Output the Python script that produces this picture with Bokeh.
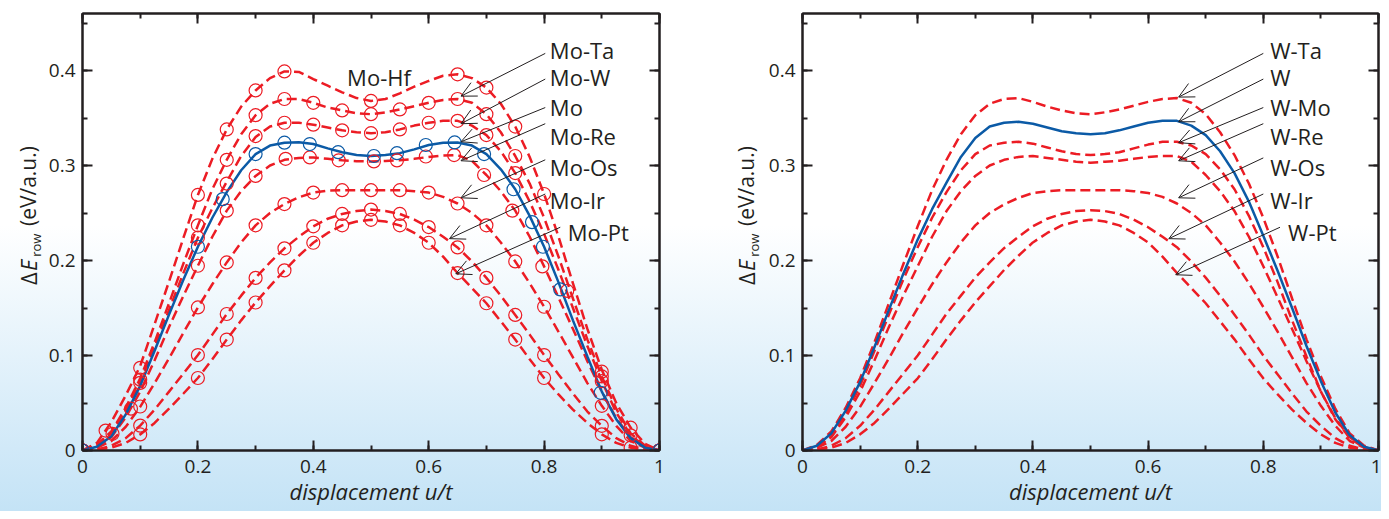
import math
from bokeh.plotting import figure
from bokeh.models import (Range1d, LinearAxis, SingleIntervalTicker, CustomJSTickFormatter,
                          Arrow, OpenHead, ColumnDataSource)
from bokeh.layouts import row
from bokeh.embed import file_html
from bokeh.resources import INLINE
from bokeh.core.properties import value

# ---------------- data ----------------
# x grid of the curves (displacement u/t)
G = [0, 0.025, 0.05, 0.075, 0.1, 0.125, 0.15, 0.175, 0.2, 0.225, 0.25, 0.275, 0.3, 0.325,
     0.35, 0.375, 0.4, 0.425, 0.45, 0.475, 0.5, 0.525, 0.55, 0.575, 0.6, 0.625, 0.65, 0.675,
     0.7, 0.725, 0.75, 0.775, 0.8, 0.825, 0.85, 0.875, 0.9, 0.925, 0.95, 0.975, 1]

# left panel curves (Mo based)
mo_hf = [0, 0.008, 0.030, 0.058, 0.089, 0.133, 0.178, 0.224, 0.269, 0.307, 0.338, 0.362, 0.379, 0.392,
         0.399, 0.3985, 0.391, 0.384, 0.377, 0.371, 0.368, 0.370, 0.376, 0.383, 0.389, 0.3945, 0.396, 0.392,
         0.382, 0.365, 0.341, 0.309, 0.270, 0.225, 0.176, 0.128, 0.085, 0.050, 0.024, 0.007, 0]
mo_ta = [0, 0.006, 0.020, 0.045, 0.076, 0.114, 0.155, 0.197, 0.237, 0.275, 0.306, 0.333, 0.353, 0.365,
         0.370, 0.370, 0.366, 0.361, 0.358, 0.355, 0.354, 0.356, 0.359, 0.3625, 0.366, 0.369, 0.370, 0.366,
         0.354, 0.335, 0.310, 0.281, 0.245, 0.204, 0.160, 0.117, 0.078, 0.044, 0.018, 0.005, 0]
mo_w = [0, 0.005, 0.018, 0.042, 0.072, 0.109, 0.148, 0.187, 0.224, 0.255, 0.283, 0.310, 0.330, 0.341,
        0.345, 0.345, 0.343, 0.340, 0.337, 0.335, 0.334, 0.335, 0.338, 0.342, 0.345, 0.347, 0.347, 0.342,
        0.332, 0.315, 0.292, 0.262, 0.228, 0.190, 0.150, 0.110, 0.073, 0.040, 0.016, 0.004, 0]
mo = [0, 0.004, 0.015, 0.038, 0.068, 0.105, 0.143, 0.180, 0.2145, 0.245, 0.272, 0.295, 0.312, 0.321,
      0.324, 0.3245, 0.3226, 0.318, 0.314, 0.311, 0.310, 0.311, 0.313, 0.317, 0.3216, 0.324, 0.3243, 0.321,
      0.312, 0.296, 0.275, 0.247, 0.2145, 0.177, 0.137, 0.099, 0.062, 0.033, 0.013, 0.003, 0]
mo_re = [0, 0.004, 0.014, 0.035, 0.062, 0.095, 0.130, 0.163, 0.1945, 0.225, 0.2525, 0.273, 0.289, 0.300,
         0.306, 0.308, 0.3085, 0.307, 0.3055, 0.3045, 0.3043, 0.3047, 0.3055, 0.307, 0.309, 0.3105, 0.311, 0.305,
         0.290, 0.273, 0.2525, 0.225, 0.1938, 0.161, 0.128, 0.094, 0.062, 0.034, 0.014, 0.004, 0]
mo_os = [0, 0.003, 0.010, 0.025, 0.046, 0.071, 0.097, 0.124, 0.1506, 0.175, 0.198, 0.219, 0.237, 0.250,
         0.2594, 0.2665, 0.2715, 0.2735, 0.274, 0.274, 0.274, 0.274, 0.274, 0.273, 0.2715, 0.267, 0.260, 0.250,
         0.237, 0.219, 0.199, 0.176, 0.1513, 0.125, 0.098, 0.071, 0.047, 0.026, 0.010, 0.003, 0]
mo_ir = [0, 0.001, 0.005, 0.013, 0.0262, 0.043, 0.062, 0.081, 0.1005, 0.122, 0.1437, 0.163, 0.1817, 0.198,
         0.2128, 0.225, 0.236, 0.244, 0.249, 0.252, 0.2536, 0.252, 0.249, 0.243, 0.2352, 0.225, 0.2138, 0.199,
         0.1817, 0.163, 0.1427, 0.122, 0.1005, 0.080, 0.060, 0.041, 0.026, 0.013, 0.005, 0.001, 0]
mo_pt = [0, 0.001, 0.003, 0.008, 0.0169, 0.029, 0.044, 0.060, 0.0763, 0.096, 0.1168, 0.137, 0.1558, 0.173,
         0.1896, 0.205, 0.2187, 0.229, 0.237, 0.241, 0.2428, 0.241, 0.237, 0.229, 0.2187, 0.204, 0.1868, 0.171,
         0.155, 0.136, 0.1168, 0.096, 0.0763, 0.059, 0.043, 0.029, 0.017, 0.008, 0.003, 0.001, 0]

# left panel computed points (open circles)
mk_mo_hf_x = [0, 0.04, 0.1, 0.2, 0.25, 0.3, 0.35, 0.5, 0.65, 0.7, 0.75, 0.8, 0.9, 0.95, 1]
mk_mo_hf_y = [0, 0.021, 0.087, 0.269, 0.338, 0.379, 0.399, 0.368, 0.396, 0.382, 0.341, 0.270, 0.083, 0.024, 0]
mk_mo_ta_x = [0, 0.052, 0.1, 0.2, 0.25, 0.3, 0.35, 0.4, 0.45, 0.5, 0.55, 0.6, 0.65, 0.7, 0.75, 0.84, 0.9, 0.95, 1]
mk_mo_ta_y = [0, 0.0176, 0.0746, 0.237, 0.306, 0.353, 0.370, 0.366, 0.358, 0.354, 0.359, 0.366, 0.370, 0.354, 0.310, 0.168, 0.078, 0.016, 0]
mk_mo_w_x = [0, 0.1, 0.2, 0.25, 0.3, 0.35, 0.4, 0.45, 0.5, 0.55, 0.6, 0.65, 0.7, 0.75, 0.9, 1]
mk_mo_w_y = [0, 0.0712, 0.224, 0.281, 0.331, 0.345, 0.343, 0.337, 0.334, 0.338, 0.345, 0.347, 0.332, 0.292, 0.073, 0]
mk_mo_x = [0, 0.2, 0.243, 0.3, 0.35, 0.394, 0.443, 0.505, 0.545, 0.595, 0.645, 0.696, 0.747, 0.779, 0.798, 0.828, 0.898, 1]
mk_mo_y = [0, 0.2145, 0.2646, 0.312, 0.324, 0.3226, 0.314, 0.310, 0.313, 0.3216, 0.3243, 0.312, 0.275, 0.2404, 0.2145, 0.1696, 0.0608, 0]
mk_mo_re_x = [0, 0.084, 0.2, 0.25, 0.3, 0.352, 0.394, 0.444, 0.505, 0.545, 0.595, 0.644, 0.696, 0.745, 0.797, 1]
mk_mo_re_y = [0, 0.044, 0.1945, 0.2525, 0.289, 0.307, 0.3085, 0.3055, 0.3043, 0.3054, 0.3095, 0.311, 0.290, 0.2525, 0.1938, 0]
mk_mo_os_x = [0, 0.1, 0.2, 0.25, 0.3, 0.35, 0.4, 0.45, 0.5, 0.55, 0.6, 0.65, 0.7, 0.75, 0.8, 0.9, 1]
mk_mo_os_y = [0, 0.0463, 0.1506, 0.198, 0.237, 0.2594, 0.2715, 0.274, 0.274, 0.274, 0.2715, 0.260, 0.237, 0.199, 0.1513, 0.047, 0]
mk_mo_ir_x = [0, 0.1, 0.2, 0.25, 0.3, 0.35, 0.4, 0.45, 0.5, 0.55, 0.6, 0.65, 0.7, 0.75, 0.8, 0.9, 1]
mk_mo_ir_y = [0, 0.0262, 0.1005, 0.1437, 0.1817, 0.2128, 0.236, 0.249, 0.2536, 0.249, 0.2352, 0.2138, 0.1817, 0.1427, 0.1005, 0.026, 0]
mk_mo_pt_x = [0, 0.1, 0.2, 0.25, 0.3, 0.35, 0.4, 0.45, 0.5, 0.55, 0.6, 0.65, 0.7, 0.75, 0.8, 0.9, 0.95, 1]
mk_mo_pt_y = [0, 0.0169, 0.0763, 0.1168, 0.1558, 0.1896, 0.2187, 0.237, 0.2428, 0.237, 0.2187, 0.1868, 0.155, 0.1168, 0.0763, 0.017, 0.003, 0]

# right panel curves (W based)
w_ta = [0, 0.006, 0.020, 0.045, 0.076, 0.114, 0.155, 0.196, 0.236, 0.274, 0.306, 0.333, 0.353, 0.365,
        0.370, 0.371, 0.367, 0.362, 0.358, 0.355, 0.354, 0.356, 0.359, 0.363, 0.367, 0.370, 0.371, 0.366,
        0.354, 0.335, 0.311, 0.281, 0.245, 0.204, 0.160, 0.117, 0.078, 0.044, 0.018, 0.005, 0]
w = [0, 0.005, 0.018, 0.042, 0.072, 0.109, 0.148, 0.186, 0.222, 0.254, 0.282, 0.309, 0.329, 0.341,
     0.345, 0.346, 0.344, 0.340, 0.336, 0.334, 0.333, 0.334, 0.337, 0.341, 0.345, 0.347, 0.347, 0.342,
     0.332, 0.315, 0.292, 0.262, 0.226, 0.189, 0.150, 0.110, 0.073, 0.040, 0.016, 0.004, 0]
w_mo = [0, 0.004, 0.015, 0.038, 0.068, 0.105, 0.143, 0.180, 0.214, 0.245, 0.272, 0.295, 0.312, 0.321,
        0.324, 0.325, 0.323, 0.319, 0.315, 0.312, 0.311, 0.312, 0.314, 0.318, 0.322, 0.325, 0.325, 0.321,
        0.312, 0.296, 0.275, 0.247, 0.214, 0.177, 0.137, 0.099, 0.062, 0.033, 0.013, 0.003, 0]
w_re = [0, 0.004, 0.014, 0.035, 0.062, 0.095, 0.130, 0.163, 0.194, 0.225, 0.252, 0.273, 0.289, 0.300,
        0.306, 0.309, 0.310, 0.308, 0.306, 0.304, 0.303, 0.304, 0.305, 0.307, 0.309, 0.310, 0.310, 0.304,
        0.290, 0.273, 0.252, 0.225, 0.194, 0.161, 0.128, 0.094, 0.062, 0.034, 0.014, 0.004, 0]
w_os = [0, 0.003, 0.010, 0.025, 0.046, 0.071, 0.097, 0.124, 0.150, 0.175, 0.198, 0.219, 0.237, 0.250,
        0.259, 0.266, 0.271, 0.273, 0.274, 0.274, 0.274, 0.274, 0.274, 0.273, 0.271, 0.267, 0.260, 0.250,
        0.237, 0.219, 0.199, 0.176, 0.151, 0.125, 0.098, 0.071, 0.047, 0.026, 0.010, 0.003, 0]
w_ir = [0, 0.001, 0.005, 0.013, 0.026, 0.043, 0.062, 0.081, 0.100, 0.122, 0.144, 0.163, 0.182, 0.198,
        0.213, 0.225, 0.236, 0.244, 0.249, 0.252, 0.253, 0.252, 0.249, 0.243, 0.235, 0.225, 0.214, 0.199,
        0.182, 0.163, 0.143, 0.122, 0.100, 0.080, 0.060, 0.041, 0.026, 0.013, 0.005, 0.001, 0]
w_pt = [0, 0.001, 0.003, 0.008, 0.017, 0.029, 0.044, 0.060, 0.076, 0.096, 0.117, 0.137, 0.156, 0.173,
        0.190, 0.205, 0.219, 0.229, 0.237, 0.241, 0.243, 0.241, 0.237, 0.229, 0.219, 0.204, 0.187, 0.171,
        0.155, 0.136, 0.117, 0.096, 0.076, 0.059, 0.043, 0.029, 0.017, 0.008, 0.003, 0.001, 0]

# annotation texts
left_names = ["Mo-Ta", "Mo-W", "Mo", "Mo-Re", "Mo-Os", "Mo-Ir", "Mo-Pt"]
right_names = ["W-Ta", "W", "W-Mo", "W-Re", "W-Os", "W-Ir", "W-Pt"]
x_title = "displacement u/t"

# annotation placement (data units of each panel)
left_lab_x = [0.810, 0.810, 0.810, 0.810, 0.810, 0.810, 0.841]
left_lab_y = [0.422, 0.393, 0.362, 0.331, 0.298, 0.264, 0.230]
left_arr = dict(xs=[0.802, 0.802, 0.802, 0.802, 0.802, 0.802, 0.828],
                ys=[0.418, 0.391, 0.361, 0.344, 0.306, 0.270, 0.235],
                xe=[0.656, 0.656, 0.656, 0.656, 0.656, 0.636, 0.647],
                ye=[0.373, 0.344, 0.325, 0.305, 0.266, 0.223, 0.186])
right_lab_x = [0.812, 0.812, 0.812, 0.812, 0.812, 0.812, 0.843]
right_lab_y = [0.422, 0.393, 0.362, 0.331, 0.298, 0.264, 0.230]
right_arr = dict(xs=[0.800, 0.800, 0.800, 0.800, 0.800, 0.800, 0.829],
                 ys=[0.418, 0.391, 0.361, 0.344, 0.308, 0.270, 0.235],
                 xe=[0.653, 0.653, 0.653, 0.653, 0.653, 0.636, 0.648],
                 ye=[0.372, 0.346, 0.324, 0.305, 0.266, 0.223, 0.185])

# ---------------- style ----------------
RED = "#ec1c24"
BLUE = "#0b5aa6"
INK = "#231f20"
FONT = "Open Sans"
H = 511


def y_title_fig(width, cx):
    """Narrow bare canvas (pixel ranges) carrying the rotated y title."""
    f = figure(width=width, height=H, x_range=Range1d(0, width), y_range=Range1d(0, H),
               output_backend="svg", toolbar_location=None, x_axis_location=None, y_axis_location=None,
               min_border=0, min_border_left=0, min_border_right=0, min_border_top=0, min_border_bottom=0)
    f.grid.visible = False
    f.outline_line_color = None
    f.background_fill_color = None
    f.border_fill_color = None
    kw = dict(text_font=value(FONT), text_color=INK, angle=math.pi / 2,
              text_align="center", text_baseline="middle")
    f.text(x=[cx], y=[H - 201.8], text=["(eV/a.u.)"], text_font_size="21px", **kw)
    f.text(x=[cx], y=[H - 310.1], text=["Δ"], text_font_size="22px", **kw)
    f.text(x=[cx], y=[H - 294.4], text=["E"], text_font_size="22px", text_font_style="italic", **kw)
    f.text(x=[cx + 8], y=[H - 271.0], text=["row"], text_font_size="13px", **kw)
    return f


def panel(width, left, right):
    p = figure(width=width, height=H, x_range=Range1d(0, 1), y_range=Range1d(0, 0.46),
               output_backend="svg", toolbar_location=None,
               x_axis_location=None, y_axis_location=None,
               min_border_left=left, min_border_right=right, min_border_top=13,
               min_border_bottom=H - 13 - 437)
    p.grid.visible = False
    p.background_fill_color = None
    p.border_fill_color = None
    p.outline_line_color = INK
    p.outline_line_width = 2
    fmt = CustomJSTickFormatter(code="var s = tick.toFixed(1); return s.endsWith('.0') ? s.slice(0, -2) : s;")
    blank = CustomJSTickFormatter(code="return '';")
    for loc, interval, f, show in [("below", 0.2, fmt, True), ("above", 0.2, blank, False),
                                   ("left", 0.1, fmt, True), ("right", 0.1, blank, False)]:
        ax = LinearAxis(ticker=SingleIntervalTicker(interval=interval, num_minor_ticks=2), formatter=f)
        ax.axis_line_color = INK
        ax.axis_line_width = 2
        ax.major_tick_line_color = INK
        ax.minor_tick_line_color = INK
        ax.major_tick_line_width = 2
        ax.minor_tick_line_width = 2
        ax.major_tick_in = 10
        ax.major_tick_out = 0
        ax.minor_tick_in = 5
        ax.minor_tick_out = 0
        if show:
            ax.major_label_text_font = FONT
            ax.major_label_text_font_size = "19px"
            ax.major_label_text_color = INK
            ax.major_label_standoff = 9 if loc == "below" else 7
        else:
            ax.major_label_text_font_size = "0px"
            ax.major_label_standoff = 0
        if loc == "below":
            ax.axis_label = x_title
            ax.axis_label_text_font = FONT
            ax.axis_label_text_font_size = "22px"
            ax.axis_label_text_font_style = "italic"
            ax.axis_label_text_color = INK
            ax.axis_label_standoff = 0
        p.add_layout(ax, loc)
    return p


def dashed(p, ys):
    p.line(G, ys, line_color=RED, line_width=2.5, line_dash="10 5")


def solid(p, ys):
    p.line(G, ys, line_color=BLUE, line_width=2.5)


def circles(p, xs, ys, color):
    p.scatter(xs, ys, marker="circle", size=13, fill_color=None, line_color=color, line_width=1.2)


def annotate(p, names, lx, ly, arr):
    src = ColumnDataSource(dict(x=lx, y=ly, t=names))
    p.text(x="x", y="y", text="t", source=src, text_font=value(FONT), text_font_size="22px",
           text_color=INK, text_align="left", text_baseline="alphabetic")
    asrc = ColumnDataSource(arr)
    p.add_layout(Arrow(x_start="xs", y_start="ys", x_end="xe", y_end="ye", source=asrc,
                       line_color=INK, line_width=1,
                       end=OpenHead(size=15, line_color=INK, line_width=1)))


# ---------------- left panel ----------------
p1 = panel(683, 38, 68)
for ys in [mo_hf, mo_ta, mo_w, mo_re, mo_os, mo_ir, mo_pt]:
    dashed(p1, ys)
solid(p1, mo)
for xs, ys in [(mk_mo_hf_x, mk_mo_hf_y), (mk_mo_ta_x, mk_mo_ta_y), (mk_mo_w_x, mk_mo_w_y),
               (mk_mo_re_x, mk_mo_re_y), (mk_mo_os_x, mk_mo_os_y), (mk_mo_ir_x, mk_mo_ir_y),
               (mk_mo_pt_x, mk_mo_pt_y)]:
    circles(p1, xs, ys, RED)
circles(p1, mk_mo_x, mk_mo_y, BLUE)
annotate(p1, left_names, left_lab_x, left_lab_y, left_arr)
p1.text(x=[0.4586], y=[0.3927], text=["Mo-Hf"], text_font=value(FONT), text_font_size="22px",
        text_color=INK, text_align="left", text_baseline="alphabetic")

# ---------------- right panel ----------------
p2 = panel(616, 36, 3)
for ys in [w_ta, w_mo, w_re, w_os, w_ir, w_pt]:
    dashed(p2, ys)
solid(p2, w)
annotate(p2, right_names, right_lab_x, right_lab_y, right_arr)

# ---------------- layout ----------------
yl1 = y_title_fig(44, 27.3)
yl2 = y_title_fig(38, 18.9)

layout = row(yl1, p1, yl2, p2,
             styles={"background": "linear-gradient(180deg, #ffffff 0%, #ffffff 44%, #c4e3f6 100%)"})

open("out.html", "w").write(file_html(layout, INLINE))
